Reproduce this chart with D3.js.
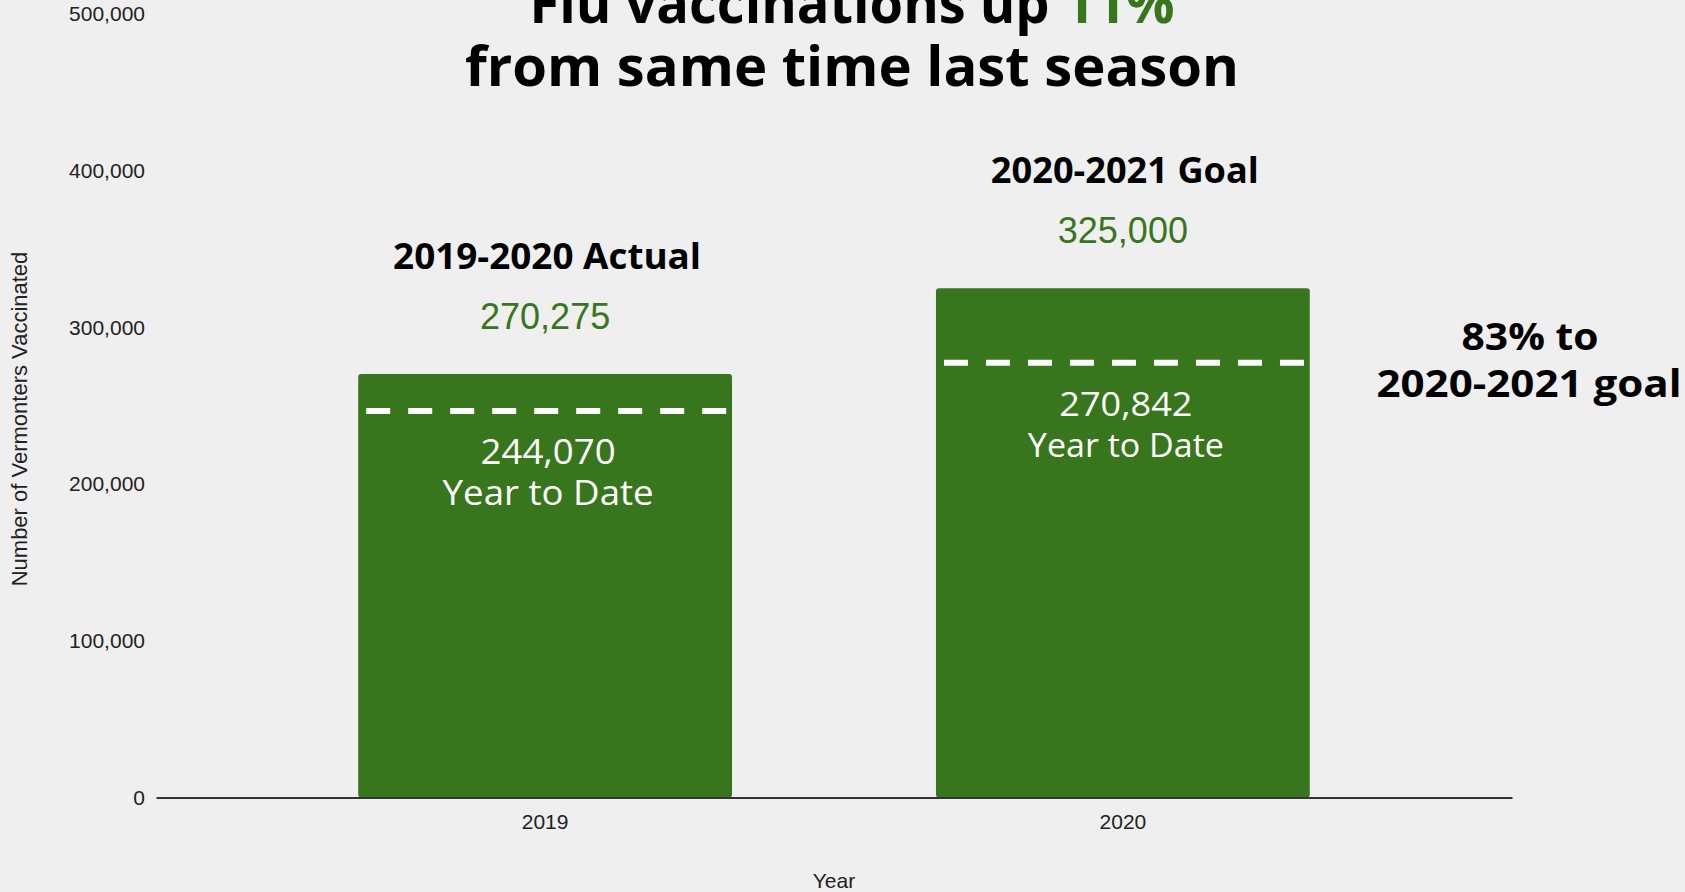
<!DOCTYPE html>
<html>
<head>
<meta charset="utf-8">
<script src="https://cdn.jsdelivr.net/npm/d3@7"></script>
<style>
  body { margin: 0; background: #efefef; }
  svg { display: block; }
</style>
</head>
<body>
<svg id="chart"></svg>
<script>
// chart values
var years = ['2019', '2020'];
var seasons = ['2019-2020 Actual', '2020-2021 Goal'];
var totals = [270275, 325000];
var yearToDate = [244070, 270842];
// height of the dashed "year to date" marker as drawn in the picture
var dashLevels = [246600, 277400];
var yTicks = [0, 100000, 200000, 300000, 400000, 500000];

var width = 1685;
var height = 892;
var green = '#38761d';
var heading = "'Open Sans', 'Noto Sans', sans-serif";
var plain = "'Liberation Sans', Arial, sans-serif";

var svg = d3.select('#chart')
  .attr('width', width)
  .attr('height', height);

svg.append('rect')
  .attr('width', width)
  .attr('height', height)
  .attr('fill', '#efefef');

// scales
var x = d3.scaleBand()
  .domain(years)
  .range([156, 1512])
  .paddingInner(0.353)
  .paddingOuter(0.35);

var y = d3.scaleLinear()
  .domain([0, 500000])
  .range([797.4, 14]);

var fmt = d3.format(',');

// y axis labels (no line, no ticks)
var yAxis = svg.append('g')
  .attr('transform', 'translate(156,0)')
  .call(d3.axisLeft(y).tickValues(yTicks).tickSize(0).tickPadding(11).tickFormat(fmt));
yAxis.select('.domain').remove();
yAxis.selectAll('text')
  .attr('font-family', plain)
  .attr('font-size', 21)
  .attr('fill', '#222');

// bars
var bars = svg.append('g');
years.forEach(function(yr, i) {
  bars.append('rect')
    .attr('x', x(yr))
    .attr('y', y(totals[i]))
    .attr('width', x.bandwidth())
    .attr('height', y(0) - y(totals[i]))
    .attr('rx', 3)
    .attr('fill', green);
});

// x axis
var xAxis = svg.append('g')
  .attr('transform', 'translate(0,' + y(0) + ')')
  .call(d3.axisBottom(x).tickSize(0).tickPadding(17));
xAxis.select('.domain')
  .attr('stroke', '#333')
  .attr('stroke-width', 2);
xAxis.selectAll('text')
  .attr('font-family', plain)
  .attr('font-size', 21)
  .attr('fill', '#222');

// axis titles
svg.append('text')
  .attr('x', 834)
  .attr('y', 888)
  .attr('text-anchor', 'middle')
  .attr('font-family', plain)
  .attr('font-size', 21)
  .attr('fill', '#222')
  .text('Year');

svg.append('text')
  .attr('transform', 'translate(27,419) rotate(-90)')
  .attr('text-anchor', 'middle')
  .attr('font-family', plain)
  .attr('font-size', 22)
  .attr('fill', '#222')
  .text('Number of Vermonters Vaccinated');

// dashed year-to-date markers
years.forEach(function(yr, i) {
  svg.append('line')
    .attr('x1', x(yr) + 8)
    .attr('x2', x(yr) + x.bandwidth() - 5)
    .attr('y1', y(dashLevels[i]))
    .attr('y2', y(dashLevels[i]))
    .attr('stroke', 'white')
    .attr('stroke-width', 6)
    .attr('stroke-dasharray', '24 18');
});

// helper for labels
function label(tx, ty, str, opts) {
  var t = svg.append('text')
    .attr('x', tx)
    .attr('y', ty)
    .attr('text-anchor', 'middle')
    .attr('font-family', opts.family || heading)
    .attr('font-size', opts.size)
    .attr('font-weight', opts.weight || 'normal')
    .attr('fill', opts.fill || '#000')
    .text(str);
  if (opts.len) {
    t.attr('textLength', opts.len).attr('lengthAdjust', 'spacingAndGlyphs');
  }
  return t;
}

var headLens = [308, 268];
var ytdSizes = [34, 32];
var ytdLens = [135, 133];
var ytdWordLens = [211, 196];
years.forEach(function(yr, i) {
  var cx = x(yr) + x.bandwidth() / 2;
  var top = y(totals[i]);
  var dash = y(dashLevels[i]);
  label(cx + 2, top - 105, seasons[i], {size: 35, weight: 700, len: headLens[i]});
  label(cx, top - 45, fmt(totals[i]), {size: 36, family: plain, fill: green});
  label(cx + 3, dash + 53, fmt(yearToDate[i]), {size: ytdSizes[i], fill: 'white', len: ytdLens[i]});
  label(cx + 3, dash + 94, 'Year to Date', {size: ytdSizes[i], fill: 'white', len: ytdWordLens[i]});
});

// share of goal reached
var pct = Math.round(yearToDate[1] / totals[1] * 100);
label(1530, 350, pct + '% to', {size: 38, weight: 700, len: 137});
label(1529, 397, '2020-2021 goal', {size: 38, weight: 700, len: 305});

// title
var t1 = label(852, 23, '', {size: 56, weight: 700, len: 645});
t1.append('tspan').text('Flu vaccinations up ');
t1.append('tspan').attr('fill', green).text('11%');
label(852, 86, 'from same time last season', {size: 56, weight: 700, len: 774});
</script>
</body>
</html>
